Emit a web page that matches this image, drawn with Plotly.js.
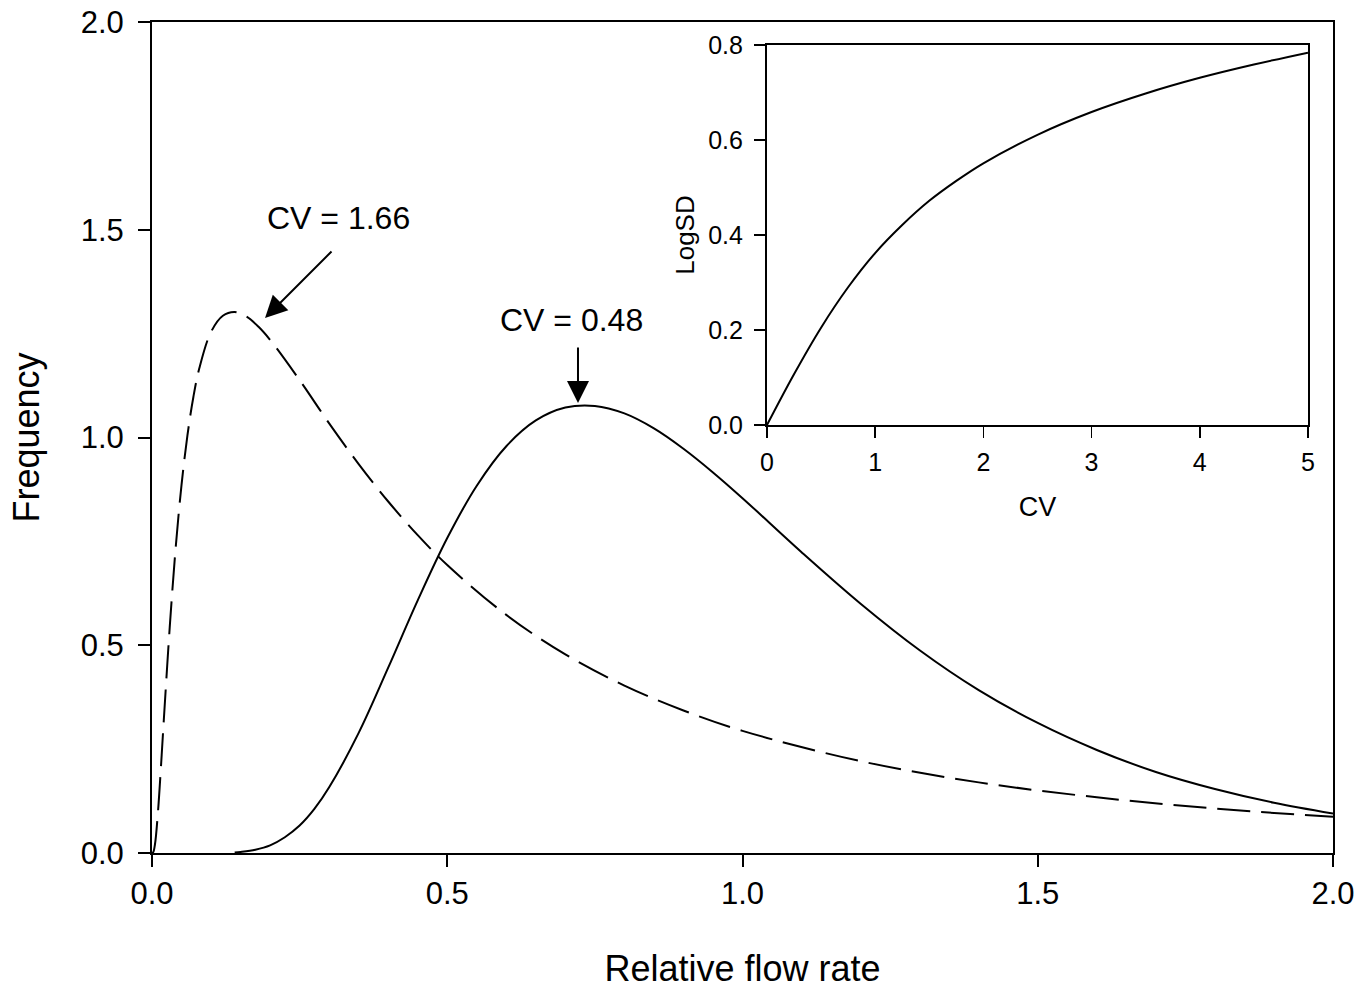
<!DOCTYPE html>
<html>
<head>
<meta charset="utf-8">
<script src="https://cdn.plot.ly/plotly-3.0.1.min.js"></script>
<style>html,body{margin:0;padding:0;background:#fff;}#chart{width:1372px;height:990px;}</style>
</head>
<body>
<div id="chart"></div>
<script>
// Main panel: CV = 0.48 (solid)
const flowSolid = [0.14, 0.15, 0.175, 0.2, 0.225, 0.25, 0.275, 0.3, 0.35, 0.4, 0.45, 0.5, 0.55, 0.6, 0.65, 0.7, 0.75, 0.8, 0.85, 0.9, 0.95, 1.0, 1.1, 1.2, 1.3, 1.4, 1.5, 1.6, 1.7, 1.8, 1.9, 2.0];
const freqSolid = [0.001, 0.0025, 0.008, 0.0185, 0.038, 0.066, 0.106, 0.158, 0.289, 0.446, 0.608, 0.758, 0.884, 0.979, 1.041, 1.072, 1.076, 1.058, 1.022, 0.973, 0.916, 0.854, 0.724, 0.600, 0.488, 0.392, 0.313, 0.248, 0.195, 0.154, 0.121, 0.095];
// Main panel: CV = 1.66 (dashed)
const flowDashed = [0.0, 0.002, 0.005, 0.01, 0.015, 0.02, 0.03, 0.04, 0.05, 0.06, 0.07, 0.08, 0.1, 0.12, 0.14, 0.16, 0.18, 0.2, 0.25, 0.3, 0.35, 0.4, 0.45, 0.5, 0.6, 0.7, 0.8, 0.9, 1.0, 1.2, 1.4, 1.6, 1.8, 2.0];
const freqDashed = [0.0, 0.0015, 0.0205, 0.097, 0.204, 0.320, 0.543, 0.733, 0.886, 1.005, 1.097, 1.166, 1.254, 1.293, 1.302, 1.291, 1.267, 1.235, 1.138, 1.034, 0.936, 0.846, 0.765, 0.693, 0.573, 0.478, 0.403, 0.343, 0.294, 0.221, 0.170, 0.134, 0.107, 0.087];
// Inset: LogSD vs CV
const insetCV = [0, 0.25, 0.5, 0.75, 1.0, 1.25, 1.5, 1.75, 2.0, 2.5, 3.0, 3.5, 4.0, 4.5, 5.0];
const insetLogSD = [0, 0.107, 0.205, 0.290, 0.362, 0.421, 0.472, 0.514, 0.551, 0.611, 0.659, 0.698, 0.731, 0.759, 0.784];
// Tick values / labels
const mainTicks = [0, 0.5, 1.0, 1.5, 2.0];
const mainTickText = ["0.0", "0.5", "1.0", "1.5", "2.0"];
const insetYTicks = [0, 0.2, 0.4, 0.6, 0.8];
const insetYTickText = ["0.0", "0.2", "0.4", "0.6", "0.8"];
const insetXTicks = [0, 1, 2, 3, 4, 5];
const insetXTickText = ["0", "1", "2", "3", "4", "5"];
// Annotation labels
const labelWide = "CV = 1.66";
const labelNarrow = "CV = 0.48";

const FONT = "Liberation Sans, Arial, sans-serif";

const traces = [
  {x: flowDashed, y: freqDashed, type: "scatter", mode: "lines",
   line: {color: "#000", width: 2, dash: "33px,11px", shape: "spline", smoothing: 1},
   xaxis: "x", yaxis: "y", hoverinfo: "skip"},
  {x: flowSolid, y: freqSolid, type: "scatter", mode: "lines",
   line: {color: "#000", width: 2, shape: "spline", smoothing: 1},
   xaxis: "x", yaxis: "y", hoverinfo: "skip"},
  {x: insetCV, y: insetLogSD, type: "scatter", mode: "lines",
   line: {color: "#000", width: 2, shape: "spline", smoothing: 1},
   xaxis: "x2", yaxis: "y2", hoverinfo: "skip"}
];

const axisCommon = {
  showgrid: false, zeroline: false, showline: true, linecolor: "#000", linewidth: 2,
  mirror: true, ticks: "outside", tickcolor: "#000", fixedrange: true
};

const layout = {
  width: 1372, height: 990,
  margin: {l: 152, r: 39, t: 22, b: 137},
  paper_bgcolor: "#fff", plot_bgcolor: "#fff",
  showlegend: false,
  font: {family: FONT, color: "#000"},
  xaxis: Object.assign({}, axisCommon, {
    domain: [0, 1], range: [0, 2], tickvals: mainTicks, ticktext: mainTickText,
    ticklen: 12, tickwidth: 2, tickfont: {size: 31, family: FONT, color: "#000"},
    anchor: "y",
    title: {text: "Relative flow rate", font: {size: 36, family: FONT, color: "#000"}, standoff: 46}
  }),
  yaxis: Object.assign({}, axisCommon, {
    domain: [0, 1], range: [0, 2], tickvals: mainTicks, ticktext: mainTickText,
    ticklen: 12, tickwidth: 2, ticklabelstandoff: 8, tickfont: {size: 31, family: FONT, color: "#000"},
    anchor: "x",
    title: {text: "Frequency", font: {size: 36, family: FONT, color: "#000"}, standoff: 30}
  }),
  xaxis2: Object.assign({}, axisCommon, {
    domain: [0.5207, 0.9788], range: [0, 5], tickvals: insetXTicks, ticktext: insetXTickText,
    ticklen: 11, tickwidth: 1.5, linewidth: 2, ticklabelstandoff: 3, tickfont: {size: 25, family: FONT, color: "#000"},
    anchor: "y2",
    title: {text: "CV", font: {size: 27, family: FONT, color: "#000"}, standoff: 22}
  }),
  yaxis2: Object.assign({}, axisCommon, {
    domain: [0.5150, 0.9723], range: [0, 0.8], tickvals: insetYTicks, ticktext: insetYTickText,
    ticklen: 11, tickwidth: 1.5, linewidth: 2, ticklabelstandoff: 6, tickfont: {size: 25, family: FONT, color: "#000"},
    anchor: "x2",
    title: {text: "LogSD", font: {size: 26, family: FONT, color: "#000"}, standoff: 6}
  }),
  annotations: [
    {xref: "x", yref: "y", x: 0.315, y: 1.528, text: labelWide, showarrow: false,
     font: {size: 32, family: FONT, color: "#000"}, xanchor: "center", yanchor: "middle"},
    {xref: "x", yref: "y", x: 0.1914, y: 1.2876, text: "", showarrow: true,
     ax: 68, ay: -68, arrowhead: 2, arrowsize: 2.2,
     arrowwidth: 2, arrowcolor: "#000", standoff: 0, startstandoff: 0},
    {xref: "x", yref: "y", x: 0.7107, y: 1.283, text: labelNarrow, showarrow: false,
     font: {size: 32, family: FONT, color: "#000"}, xanchor: "center", yanchor: "middle"},
    {xref: "x", yref: "y", x: 0.7214, y: 1.083, text: "", showarrow: true,
     ax: 0, ay: -57, arrowhead: 2, arrowsize: 2.2,
     arrowwidth: 2, arrowcolor: "#000", standoff: 0, startstandoff: 0}
  ]
};

Plotly.newPlot("chart", traces, layout, {displayModeBar: false, staticPlot: true});
</script>
</body>
</html>
